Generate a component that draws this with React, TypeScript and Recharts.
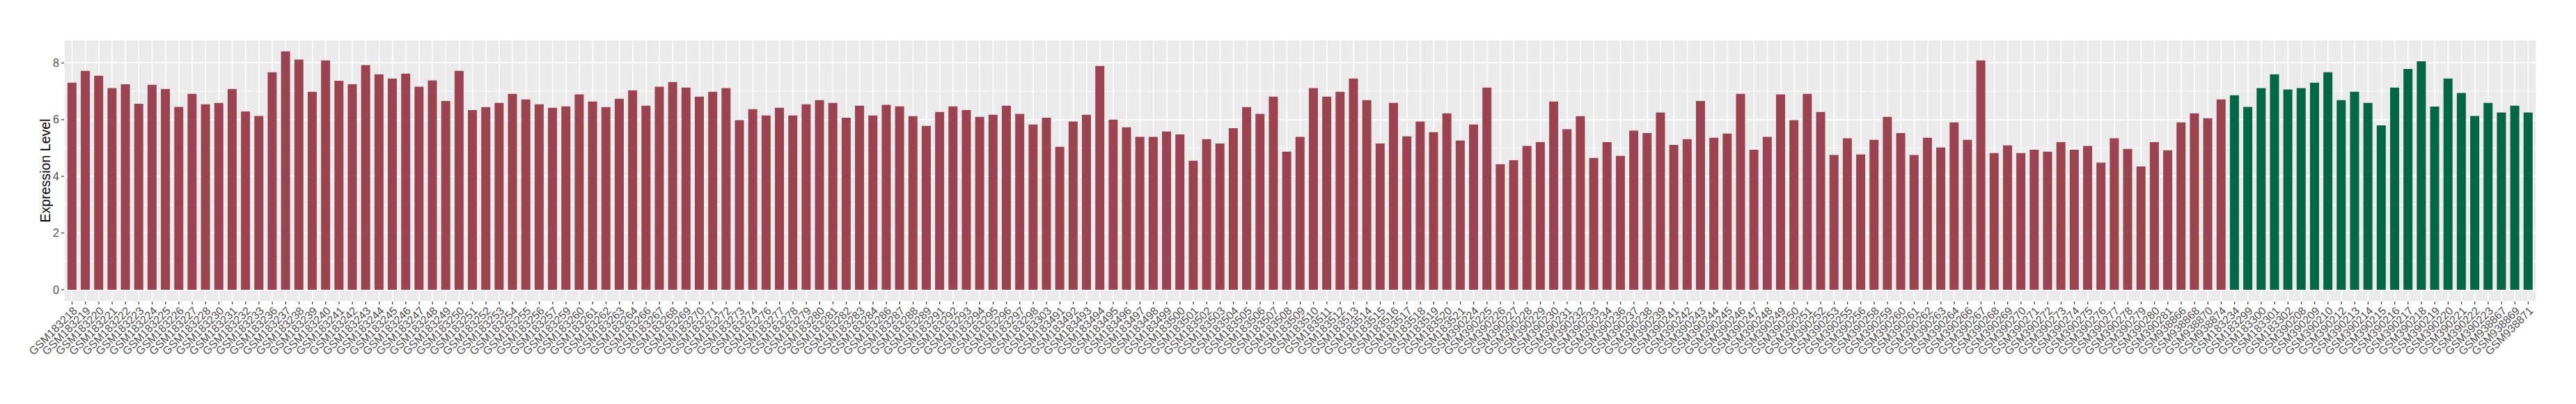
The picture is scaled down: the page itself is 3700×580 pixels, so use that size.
import { BarChart, Bar, XAxis, YAxis, CartesianGrid, Cell } from "recharts";

// tumour / case samples (red), in plotting order
const caseSamples = [
  "GSM183218", "GSM183219", "GSM183220", "GSM183221", "GSM183222", "GSM183223", "GSM183224", "GSM183225",
  "GSM183226", "GSM183227", "GSM183228", "GSM183230", "GSM183231", "GSM183232", "GSM183233", "GSM183236",
  "GSM183237", "GSM183238", "GSM183239", "GSM183240", "GSM183241", "GSM183242", "GSM183243", "GSM183244",
  "GSM183245", "GSM183246", "GSM183247", "GSM183248", "GSM183249", "GSM183250", "GSM183251", "GSM183252",
  "GSM183253", "GSM183254", "GSM183255", "GSM183256", "GSM183257", "GSM183259", "GSM183260", "GSM183261",
  "GSM183262", "GSM183263", "GSM183264", "GSM183266", "GSM183267", "GSM183268", "GSM183269", "GSM183270",
  "GSM183271", "GSM183272", "GSM183273", "GSM183274", "GSM183276", "GSM183277", "GSM183278", "GSM183279",
  "GSM183280", "GSM183281", "GSM183282", "GSM183283", "GSM183284", "GSM183286", "GSM183287", "GSM183288",
  "GSM183289", "GSM183291", "GSM183292", "GSM183293", "GSM183294", "GSM183295", "GSM183296", "GSM183297",
  "GSM183298", "GSM183303", "GSM183491", "GSM183492", "GSM183493", "GSM183494", "GSM183495", "GSM183496",
  "GSM183497", "GSM183498", "GSM183499", "GSM183500", "GSM183501", "GSM183502", "GSM183503", "GSM183504",
  "GSM183505", "GSM183506", "GSM183507", "GSM183508", "GSM183509", "GSM183510", "GSM183511", "GSM183512",
  "GSM183513", "GSM183514", "GSM183515", "GSM183516", "GSM183517", "GSM183518", "GSM183519", "GSM183520",
  "GSM183521", "GSM390224", "GSM390225", "GSM390226", "GSM390227", "GSM390228", "GSM390229", "GSM390230",
  "GSM390231", "GSM390232", "GSM390233", "GSM390234", "GSM390236", "GSM390237", "GSM390238", "GSM390239",
  "GSM390241", "GSM390242", "GSM390243", "GSM390244", "GSM390245", "GSM390246", "GSM390247", "GSM390248",
  "GSM390249", "GSM390250", "GSM390251", "GSM390252", "GSM390253", "GSM390255", "GSM390256", "GSM390258",
  "GSM390259", "GSM390260", "GSM390261", "GSM390262", "GSM390263", "GSM390264", "GSM390266", "GSM390267",
  "GSM390268", "GSM390269", "GSM390270", "GSM390271", "GSM390272", "GSM390273", "GSM390274", "GSM390275",
  "GSM390276", "GSM390277", "GSM390278", "GSM390279", "GSM390280", "GSM390281", "GSM938866", "GSM938868",
  "GSM938870", "GSM938874",
];

const caseLevels = [
  7.30, 7.72, 7.55, 7.11, 7.25, 6.56, 7.23, 7.08,
  6.45, 6.91, 6.54, 6.59, 7.08, 6.29, 6.13, 7.67,
  8.41, 8.12, 6.98, 8.09, 7.37, 7.25, 7.92, 7.60,
  7.45, 7.62, 7.16, 7.38, 6.66, 7.72, 6.34, 6.44,
  6.59, 6.91, 6.71, 6.54, 6.42, 6.47, 6.89, 6.64,
  6.44, 6.74, 7.03, 6.49, 7.16, 7.33, 7.13, 6.81,
  6.98, 7.11, 5.98, 6.37, 6.15, 6.42, 6.15, 6.54,
  6.69, 6.59, 6.07, 6.49, 6.15, 6.52, 6.47, 6.12,
  5.78, 6.27, 6.47, 6.34, 6.10, 6.17, 6.49, 6.20,
  5.83, 6.07, 5.04, 5.93, 6.17, 7.89, 6.00, 5.73,
  5.39, 5.39, 5.58, 5.48, 4.55, 5.31, 5.16, 5.70,
  6.44, 6.20, 6.81, 4.87, 5.39, 7.11, 6.81, 6.98,
  7.45, 6.69, 5.16, 6.59, 5.41, 5.93, 5.56, 6.22,
  5.26, 5.83, 7.13, 4.43, 4.57, 5.07, 5.21, 6.64,
  5.66, 6.12, 4.65, 5.21, 4.72, 5.61, 5.53, 6.25,
  5.11, 5.31, 6.66, 5.36, 5.51, 6.91, 4.94, 5.39,
  6.89, 5.98, 6.91, 6.27, 4.75, 5.34, 4.77, 5.29,
  6.10, 5.53, 4.75, 5.36, 5.02, 5.90, 5.29, 8.09,
  4.82, 5.09, 4.82, 4.94, 4.87, 5.21, 4.94, 5.07,
  4.48, 5.34, 4.97, 4.35, 5.21, 4.92, 5.90, 6.22,
  6.05, 6.71,
];

// normal / control samples (green)
const controlSamples = [
  "GSM183234", "GSM183299", "GSM183300", "GSM183301", "GSM183302", "GSM390208", "GSM390209", "GSM390210",
  "GSM390212", "GSM390213", "GSM390214", "GSM390215", "GSM390216", "GSM390217", "GSM390218", "GSM390219",
  "GSM390220", "GSM390221", "GSM390222", "GSM390223", "GSM938867", "GSM938869", "GSM938871",
];

const controlLevels = [
  6.86, 6.45, 7.11, 7.60, 7.06, 7.11, 7.30, 7.67,
  6.69, 6.98, 6.59, 5.80, 7.13, 7.79, 8.06, 6.46,
  7.45, 6.94, 6.13, 6.59, 6.25, 6.49, 6.25,
];

const yTicks = [0, 2, 4, 6, 8];
const yMinorTicks = [1, 3, 5, 7];
const yDomain = [-0.42, 8.82];

const CASE_COLOR = "#9B4351";
const CONTROL_COLOR = "#036745";
const FONT = "'Liberation Sans', Arial, Helvetica, sans-serif";

const data = [
  ...caseSamples.map((sample, i) => ({ sample, level: caseLevels[i], group: "case" })),
  ...controlSamples.map((sample, i) => ({ sample, level: controlLevels[i], group: "control" })),
];

function SampleTick({ x, y, payload }: any) {
  return (
    <text
      x={x}
      y={y}
      transform={`rotate(-45, ${x}, ${y})`}
      textAnchor="end"
      dy="0.72em"
      fontSize={16}
      fontFamily={FONT}
      fill="#4D4D4D"
    >
      {payload.value}
    </text>
  );
}

export default function App() {
  return (
    <div style={{ position: "absolute", left: 0, top: 0, width: 3700, height: 580, background: "#fff" }}>
      <BarChart
        width={3700}
        height={580}
        data={data}
        margin={{ top: 57, right: 57, bottom: 0, left: 0 }}
        barCategoryGap="15%"
      >
        <CartesianGrid
          yAxisId="minor"
          vertical={false}
          fill="#EBEBEB"
          stroke="#FFFFFF"
          strokeWidth={0.8}
        />
        <CartesianGrid yAxisId="main" stroke="#FFFFFF" strokeWidth={1.5} />
        <XAxis
          dataKey="sample"
          interval={0}
          height={147}
          padding={{ left: 2, right: 2 }}
          axisLine={false}
          tickLine={{ stroke: "#333333", strokeWidth: 1.2 }}
          tickSize={4}
          tickMargin={2}
          tick={<SampleTick />}
        />
        <YAxis
          yAxisId="main"
          type="number"
          domain={yDomain}
          ticks={yTicks}
          allowDataOverflow
          width={92}
          axisLine={false}
          tickLine={{ stroke: "#333333", strokeWidth: 1.2 }}
          tickSize={4}
          tickMargin={3}
          tick={{ fontSize: 16, fill: "#4D4D4D", fontFamily: FONT }}
        />
        <YAxis
          yAxisId="minor"
          type="number"
          domain={yDomain}
          ticks={yMinorTicks}
          allowDataOverflow
          hide
        />
        <Bar dataKey="level" yAxisId="main" isAnimationActive={false}>
          {data.map((d) => (
            <Cell key={d.sample} fill={d.group === "case" ? CASE_COLOR : CONTROL_COLOR} />
          ))}
        </Bar>
      </BarChart>
      {/* y axis title, centred on the panel (57..433) */}
      <svg width={100} height={580} style={{ position: "absolute", left: 0, top: 0, pointerEvents: "none" }}>
        <text
          x={65}
          y={245}
          transform="rotate(-90, 65, 245)"
          textAnchor="middle"
          dominantBaseline="central"
          fontSize={19.6}
          fontFamily={FONT}
          fill="#000000"
        >
          Expression Level
        </text>
      </svg>
    </div>
  );
}
